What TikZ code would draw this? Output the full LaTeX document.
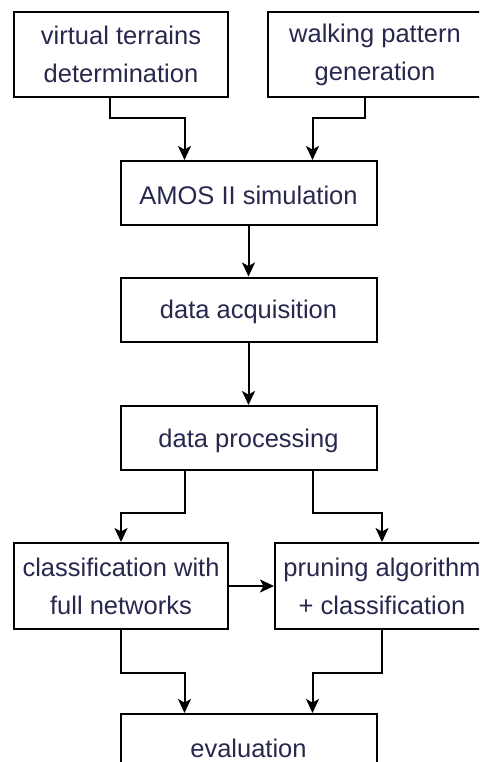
\documentclass[tikz,border=0pt]{standalone}
\usepackage{fontspec}
\setmainfont{Liberation Sans}
\usepackage{xcolor}
\definecolor{flowink}{RGB}{40,40,78}
\usetikzlibrary{arrows.meta, positioning}

\begin{document}
\begin{tikzpicture}[x=1pt, y=-1pt,
    box/.style={draw=black, line width=2pt, fill=white, align=center, text=flowink,
      font=\fontsize{25.5}{38}\selectfont, inner sep=0pt,
      execute at begin node={\rule{0pt}{#1}}},
    box/.default=24pt,
    wide/.style={box, minimum width=256pt, minimum height=64pt},
    tall/.style={box=27pt, minimum width=214pt, minimum height=85pt},
    flow/.style={draw=black, line width=2pt, -{Stealth[length=14pt, width=13pt, inset=3.5pt]}}]
      \clip (0,0) rectangle (479,762);
      \fill[white] (0,0) rectangle (479,762);
      % Input blocks
      \node[tall] (terrain) at (121,54.5) {virtual terrains\\determination};
      \node[tall] (walking) at (375,54.5) {walking pattern\\generation};
      % Main chain
      \node[wide] (sim) at (248.5,193) {AMOS II simulation};
      \node[wide] (acq) at (248.5,309.5) {data acquisition};
      \node[wide] (proc) at (248.5,438) {data processing};
      % Two classifiers
      \node[tall, minimum height=86pt] (full) at (121,586) {classification with\\full networks};
      \node[tall, minimum height=86pt] (prune) at (382,586) {pruning algorithm\\+ classification};
      \node[wide] (eval) at (248.5,746) {evaluation};
      % Connectors
      \draw[flow] ([xshift=-11pt]terrain.south) -- ++(0,20) -| ([xshift=-64pt]sim.north);
      \draw[flow] ([xshift=-10pt]walking.south) -- ++(0,20) -| ([xshift=64pt]sim.north);
      \draw[flow] (sim) -- (acq);
      \draw[flow] (acq) -- (proc);
      \draw[flow] ([xshift=-64pt]proc.south) -- ++(0,42) -| (full.north);
      \draw[flow] ([xshift=64pt]proc.south) -- ++(0,42) -| (prune.north);
      \draw[flow] (full) -- (prune);
      \draw[flow] (full.south) -- ++(0,43) -| ([xshift=-64pt]eval.north);
      \draw[flow] (prune.south) -- ++(0,43) -| ([xshift=64pt]eval.north);
    \end{tikzpicture}
\end{document}
